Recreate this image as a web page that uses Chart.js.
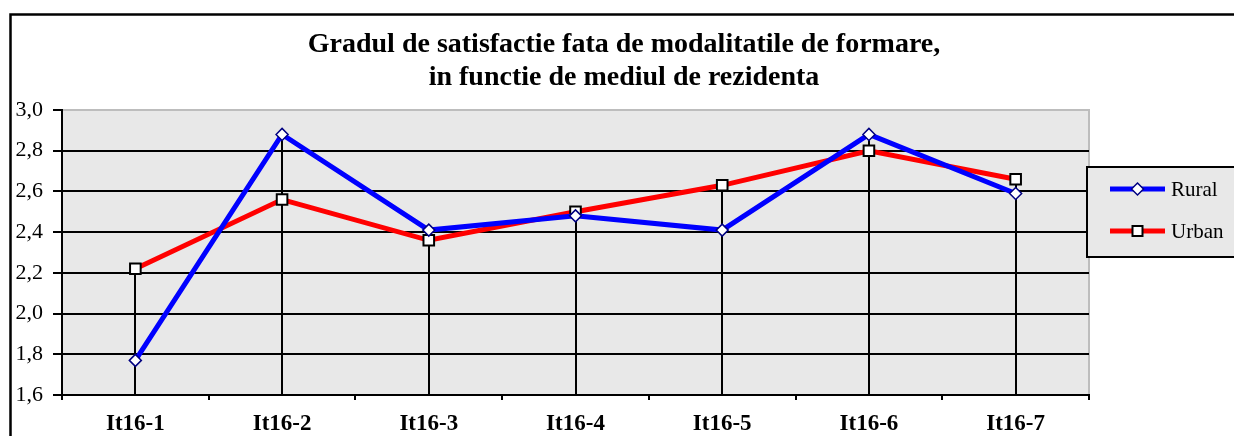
<!DOCTYPE html>
<html>
<head>
<meta charset="utf-8">
<script src="https://cdn.jsdelivr.net/npm/chart.js@4/dist/chart.umd.min.js"></script>
<style>
html,body{margin:0;padding:0;background:#fff;}
canvas{display:block;}
</style>
</head>
<body>
<canvas id="c" width="1234" height="436"></canvas>
<script>
const categories = ['It16-1', 'It16-2', 'It16-3', 'It16-4', 'It16-5', 'It16-6', 'It16-7'];
const rural = [1.77, 2.88, 2.41, 2.48, 2.41, 2.88, 2.59];
const urban = [2.22, 2.56, 2.36, 2.50, 2.63, 2.80, 2.66];
const seriesNames = ['Rural', 'Urban'];
const titleLines = ['Gradul de satisfactie fata de modalitatile de formare,', 'in functie de mediul de rezidenta'];
const yMin = 1.6, yMax = 3.0, yStep = 0.2;

const SERIF = '"Liberation Serif", "Times New Roman", serif';

const decorPlugin = {
  id: 'decor',
  beforeDraw(chart) {
    const ctx = chart.ctx, a = chart.chartArea;
    ctx.save();
    ctx.fillStyle = '#ffffff';
    ctx.fillRect(0, 0, chart.width, chart.height);
    // outer border
    ctx.strokeStyle = '#000';
    ctx.lineWidth = 2.5;
    ctx.strokeRect(10.5, 14.5, 1300, 500);
    // plot area background
    ctx.fillStyle = '#e8e8e8';
    ctx.fillRect(a.left, a.top, a.right - a.left, a.bottom - a.top);
    ctx.strokeStyle = '#bdbdbd';
    ctx.lineWidth = 2;
    ctx.strokeRect(a.left, a.top, a.right - a.left, a.bottom - a.top);
    // title
    ctx.fillStyle = '#000';
    ctx.font = 'bold 28px ' + SERIF;
    ctx.textAlign = 'center';
    ctx.textBaseline = 'alphabetic';
    ctx.fillText(titleLines[0], 624, 52);
    ctx.fillText(titleLines[1], 624, 85);
    ctx.restore();
  },
  beforeDatasetsDraw(chart) {
    const ctx = chart.ctx;
    const xs = chart.scales.x, ys = chart.scales.y;
    ctx.save();
    ctx.strokeStyle = '#000';
    ctx.lineWidth = 2;
    categories.forEach((c, i) => {
      const top = Math.max(rural[i], urban[i]);
      const x = Math.round(xs.getPixelForValue(i));
      ctx.beginPath();
      ctx.moveTo(x, ys.getPixelForValue(top));
      ctx.lineTo(x, ys.getPixelForValue(yMin));
      ctx.stroke();
    });
    ctx.restore();
  },
  afterDraw(chart) {
    const ctx = chart.ctx;
    ctx.save();
    // legend box
    ctx.fillStyle = '#e8e8e8';
    ctx.fillRect(1087, 167, 160, 90);
    ctx.strokeStyle = '#000';
    ctx.lineWidth = 2;
    ctx.strokeRect(1087, 167, 160, 90);
    const items = [
      {name: seriesNames[0], color: '#0000ff', y: 189, marker: 'diamond'},
      {name: seriesNames[1], color: '#ff0000', y: 231, marker: 'square'}
    ];
    items.forEach(it => {
      ctx.strokeStyle = it.color;
      ctx.lineWidth = 5;
      ctx.beginPath();
      ctx.moveTo(1110, it.y);
      ctx.lineTo(1165, it.y);
      ctx.stroke();
      const cx = 1137.5;
      ctx.fillStyle = '#fff';
      if (it.marker === 'diamond') {
        ctx.strokeStyle = '#000080';
        ctx.lineWidth = 1.5;
        ctx.beginPath();
        ctx.moveTo(cx, it.y - 6);
        ctx.lineTo(cx + 6, it.y);
        ctx.lineTo(cx, it.y + 6);
        ctx.lineTo(cx - 6, it.y);
        ctx.closePath();
        ctx.fill();
        ctx.stroke();
      } else {
        ctx.strokeStyle = '#000';
        ctx.lineWidth = 2;
        ctx.fillRect(cx - 5, it.y - 5, 10, 10);
        ctx.strokeRect(cx - 5, it.y - 5, 10, 10);
      }
      ctx.fillStyle = '#000';
      ctx.font = '21px ' + SERIF;
      ctx.textAlign = 'left';
      ctx.textBaseline = 'middle';
      ctx.fillText(it.name, 1171, it.y + 1);
    });
    ctx.restore();
  }
};

new Chart(document.getElementById('c'), {
  type: 'line',
  data: {
    labels: categories,
    datasets: [
      {
        label: seriesNames[0],
        data: rural,
        borderColor: '#0000ff',
        borderWidth: 5,
        tension: 0,
        pointStyle: 'rectRot',
        pointRadius: 6,
        pointBackgroundColor: '#ffffff',
        pointBorderColor: '#000080',
        pointBorderWidth: 1.5,
        fill: false
      },
      {
        label: seriesNames[1],
        data: urban,
        borderColor: '#ff0000',
        borderWidth: 5,
        tension: 0,
        pointStyle: 'rect',
        pointRadius: 7.5,
        pointBackgroundColor: '#ffffff',
        pointBorderColor: '#000000',
        pointBorderWidth: 2,
        fill: false
      }
    ]
  },
  options: {
    responsive: false,
    animation: false,
    devicePixelRatio: 1,
    layout: { padding: { left: 0, top: 110, right: 145, bottom: 0 } },
    plugins: {
      legend: { display: false },
      title: { display: false },
      tooltip: { enabled: false }
    },
    scales: {
      x: {
        offset: true,
        grid: {
          display: true,
          offset: true,
          drawOnChartArea: false,
          drawTicks: true,
          tickLength: 5,
          color: '#000',
          lineWidth: 2
        },
        border: { display: true, color: '#000', width: 2 },
        ticks: {
          color: '#000',
          font: { family: SERIF, size: 23, weight: 'bold' },
          padding: 10,
          maxRotation: 0,
          autoSkip: false
        },
        afterFit(scale) { scale.height = 41; }
      },
      y: {
        min: yMin,
        max: yMax,
        grid: {
          color: ctx => (ctx.tick && Math.abs(ctx.tick.value - yMax) < 1e-6) ? '#bdbdbd' : '#000',
          lineWidth: 2,
          tickLength: 9,
          tickColor: '#000',
          drawTicks: true
        },
        border: { display: true, color: '#000', width: 2 },
        ticks: {
          stepSize: yStep,
          color: '#000',
          font: { family: SERIF, size: 22 },
          padding: 10,
          callback: v => v.toFixed(1).replace('.', ',')
        },
        afterFit(scale) { scale.width = 62; }
      }
    }
  },
  plugins: [decorPlugin]
});
</script>
</body>
</html>
